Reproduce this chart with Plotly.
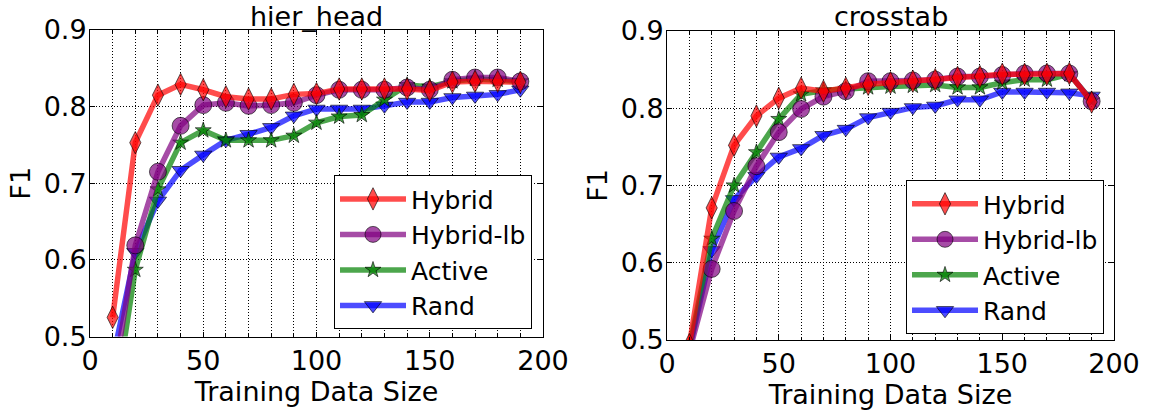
import plotly.graph_objects as go

# ---------------- data ----------------
train_sizes = [10, 20, 30, 40, 50, 60, 70, 80, 90, 100, 110, 120, 130, 140, 150, 160, 170, 180, 190]

hier_hybrid = [0.525, 0.753, 0.815, 0.829, 0.822, 0.813, 0.810, 0.810, 0.816, 0.817, 0.823, 0.823,
               0.823, 0.823, 0.821, 0.832, 0.833, 0.833, 0.832]
hier_hybrid_lb = [0.436, 0.619, 0.715, 0.775, 0.802, 0.805, 0.801, 0.802, 0.805, 0.815, 0.822, 0.822,
                  0.822, 0.825, 0.822, 0.835, 0.838, 0.838, 0.833]
hier_active = [0.396, 0.587, 0.692, 0.753, 0.769, 0.756, 0.756, 0.756, 0.762, 0.779, 0.787, 0.789,
               0.809, 0.828, 0.826, 0.833, 0.836, 0.835, 0.833]
hier_rand = [0.470, 0.610, 0.677, 0.717, 0.737, 0.756, 0.764, 0.773, 0.788, 0.797, 0.797, 0.797,
             0.801, 0.806, 0.806, 0.812, 0.814, 0.816, 0.822]

cross_hybrid = [0.494, 0.671, 0.752, 0.790, 0.813, 0.826, 0.822, 0.826, 0.831, 0.833, 0.835, 0.837,
                0.840, 0.841, 0.844, 0.844, 0.844, 0.845, 0.808]
cross_hybrid_lb = [0.485, 0.592, 0.667, 0.725, 0.769, 0.799, 0.815, 0.822, 0.835, 0.835, 0.836, 0.837,
                   0.841, 0.841, 0.843, 0.845, 0.845, 0.845, 0.809]
cross_active = [0.490, 0.631, 0.700, 0.743, 0.786, 0.818, 0.823, 0.825, 0.827, 0.828, 0.829, 0.830,
                0.827, 0.827, 0.833, 0.837, 0.837, 0.844, 0.810]
cross_rand = [0.488, 0.616, 0.682, 0.712, 0.737, 0.748, 0.765, 0.773, 0.788, 0.795, 0.801, 0.803,
              0.811, 0.811, 0.821, 0.821, 0.821, 0.820, 0.816]

series_names = ["Hybrid", "Hybrid-lb", "Active", "Rand"]
panel_titles = ["hier_head", "crosstab"]
x_tick_vals = [0, 50, 100, 150, 200]
y_tick_vals = [0.5, 0.6, 0.7, 0.8, 0.9]

# ---------------- styles ----------------
FONT = "DejaVu Sans"
styles = {
    "Hybrid": dict(rgb="255,0,0", symbol="diamond-tall", size=16),
    "Hybrid-lb": dict(rgb="128,0,128", symbol="circle", size=17),
    "Active": dict(rgb="0,128,0", symbol="star", size=12),
    "Rand": dict(rgb="0,0,255", symbol="triangle-down", size=15),
}

panels = [
    dict(xaxis="x", yaxis="y", legend="legend",
         data={"Hybrid": hier_hybrid, "Hybrid-lb": hier_hybrid_lb, "Active": hier_active, "Rand": hier_rand}),
    dict(xaxis="x2", yaxis="y2", legend="legend2",
         data={"Hybrid": cross_hybrid, "Hybrid-lb": cross_hybrid_lb, "Active": cross_active, "Rand": cross_rand}),
]

fig = go.Figure()
for p in panels:
    # draw order bottom->top: Rand, Active, Hybrid-lb, Hybrid
    for name in reversed(series_names):
        st = styles[name]
        fig.add_trace(go.Scatter(
            x=train_sizes, y=p["data"][name], name=name,
            xaxis=p["xaxis"], yaxis=p["yaxis"], legend=p["legend"],
            mode="lines+markers",
            line=dict(color=f"rgba({st['rgb']},0.7)", width=5.5),
            marker=dict(symbol=st["symbol"], size=st["size"], color=f"rgba({st['rgb']},0.7)",
                        line=dict(color="rgba(0,0,0,0.6)", width=1)),
        ))

L, R, T, B = 90, 41, 30, 68
W, H = 1155, 412
pw, ph = W - L - R, H - T - B
left_dom = [0, (543 - L) / pw]
right_dom = [(667 - L) / pw, 1]
left_ydom = [(344 - 340.5) / ph, 1]
right_ydom = [0, (344 - 31) / ph]

def xaxis_cfg(domain, anchor):
    return dict(
        domain=domain, anchor=anchor, range=[0, 200], tickvals=x_tick_vals,
        showgrid=True, gridcolor="black", griddash="1px,2px", gridwidth=1,
        showline=True, linecolor="black", linewidth=1, mirror="allticks",
        ticks="inside", ticklen=5, tickcolor="black",
        minor=dict(dtick=10, tick0=0, showgrid=True, gridcolor="black", griddash="1px,2px",
                   gridwidth=1, ticks="inside", ticklen=3, tickcolor="black"),
        tickfont=dict(family=FONT, size=27, color="black"),
        title=dict(text="Training Data Size", font=dict(family=FONT, size=27, color="black"), standoff=2),
        zeroline=False,
    )

def yaxis_cfg(domain, anchor):
    return dict(
        domain=domain, anchor=anchor, range=[0.5, 0.9], tickvals=y_tick_vals, tickformat=".1f",
        showgrid=True, gridcolor="black", griddash="1px,2px", gridwidth=1,
        showline=True, linecolor="black", linewidth=1, mirror="allticks",
        ticks="inside", ticklen=5, tickcolor="black", ticklabelstandoff=-3,
        tickfont=dict(family=FONT, size=27, color="black"),
        title=dict(text="F1", font=dict(family=FONT, size=27, color="black"), standoff=5),
        zeroline=False,
    )

def legend_cfg(x, y):
    return dict(
        x=x, y=y, xref="paper", yref="paper", xanchor="left", yanchor="top",
        bgcolor="white", bordercolor="black", borderwidth=1,
        font=dict(family=FONT, size=25, color="black"),
        traceorder="reversed", itemwidth=66, itemsizing="trace",
    )

fig.update_layout(
    width=W, height=H,
    margin=dict(l=L, r=R, t=T, b=B),
    paper_bgcolor="white", plot_bgcolor="white",
    font=dict(family=FONT, color="black"),
    xaxis=xaxis_cfg(left_dom, "y"),
    yaxis=yaxis_cfg(left_ydom, "x"),
    xaxis2=xaxis_cfg(right_dom, "y2"),
    yaxis2=yaxis_cfg(right_ydom, "x2"),
    legend=legend_cfg((334 - L) / pw, (H - B - 177) / ph),
    legend2=legend_cfg((906 - L) / pw, (H - B - 182) / ph),
    showlegend=True,
    annotations=[
        dict(text=panel_titles[0], x=sum(left_dom) / 2, y=1, xref="paper", yref="paper",
             xanchor="center", yanchor="bottom", showarrow=False, yshift=-4,
             font=dict(family=FONT, size=27, color="black")),
        dict(text=panel_titles[1], x=sum(right_dom) / 2, y=1, xref="paper", yref="paper",
             xanchor="center", yanchor="bottom", showarrow=False, yshift=-4,
             font=dict(family=FONT, size=27, color="black")),
    ],
)

fig.write_html("out.html")
